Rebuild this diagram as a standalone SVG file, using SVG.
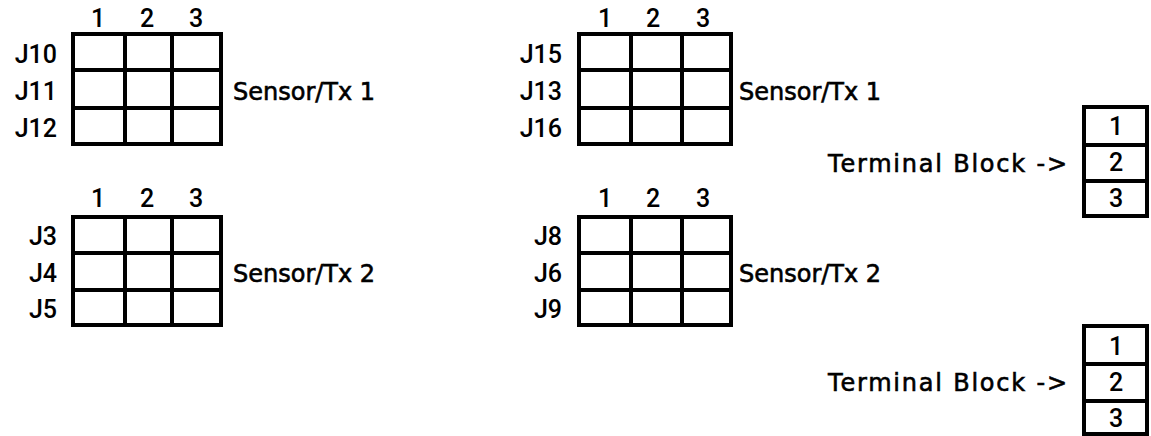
<svg xmlns="http://www.w3.org/2000/svg" width="1151" height="436" viewBox="0 0 1151 436">
<style>
text{font-family:"DejaVu Sans",Verdana,sans-serif;font-size:24px;fill:#000;stroke:#000;stroke-width:0.6}
.d{font-family:Roboto,"Liberation Sans",sans-serif;font-size:25px;font-weight:500;stroke:none}
.g{fill:none;stroke:#000;stroke-width:4}
.e{text-anchor:end}
.m{text-anchor:middle}
</style>
<rect width="1151" height="436" fill="#fff"/>
<g id="grid-top-left">
<text class="d m" x="98" y="27">1</text><text class="d m" x="147" y="27">2</text><text class="d m" x="196" y="27">3</text>
<text class="d e" x="57" y="63">J10</text><text class="d e" x="57" y="100">J11</text><text class="d e" x="57" y="137">J12</text>
<path class="g" d="M73 34H221V144H73Z M125 34V144 M172 34V144 M73 70H221 M73 108H221"/>
<text x="233" y="100">Sensor/Tx 1</text>
</g>
<g id="grid-top-right">
<text class="d m" x="605" y="27">1</text><text class="d m" x="653" y="27">2</text><text class="d m" x="703" y="27">3</text>
<text class="d e" x="562" y="63">J15</text><text class="d e" x="562" y="100">J13</text><text class="d e" x="562" y="137">J16</text>
<path class="g" d="M579 34H731V144H579Z M631 34V144 M682 34V144 M579 70H731 M579 108H731"/>
<text x="739" y="100">Sensor/Tx 1</text>
</g>
<g id="grid-bottom-left">
<text class="d m" x="98" y="207">1</text><text class="d m" x="147" y="207">2</text><text class="d m" x="196" y="207">3</text>
<text class="d e" x="57" y="245">J3</text><text class="d e" x="57" y="282">J4</text><text class="d e" x="57" y="318">J5</text>
<path class="g" d="M73 217H221V325H73Z M125 217V325 M172 217V325 M73 253H221 M73 290H221"/>
<text x="233" y="282">Sensor/Tx 2</text>
</g>
<g id="grid-bottom-right">
<text class="d m" x="605" y="207">1</text><text class="d m" x="653" y="207">2</text><text class="d m" x="703" y="207">3</text>
<text class="d e" x="562" y="245">J8</text><text class="d e" x="562" y="282">J6</text><text class="d e" x="562" y="318">J9</text>
<path class="g" d="M579 217H731V325H579Z M631 217V325 M682 217V325 M579 253H731 M579 290H731"/>
<text x="739" y="282">Sensor/Tx 2</text>
</g>
<g id="terminal-block-1">
<text x="828" y="172" textLength="239" lengthAdjust="spacing">Terminal Block -&gt;</text>
<path class="g" d="M1084 107H1147V216H1084Z M1084 145H1147 M1084 181H1147"/>
<text class="d m" x="1116" y="135">1</text><text class="d m" x="1116" y="171">2</text><text class="d m" x="1116" y="207">3</text>
</g>
<g id="terminal-block-2">
<text x="828" y="391" textLength="239" lengthAdjust="spacing">Terminal Block -&gt;</text>
<path class="g" d="M1084 326H1147V434H1084Z M1084 364H1147 M1084 401H1147"/>
<text class="d m" x="1116" y="355">1</text><text class="d m" x="1116" y="391">2</text><text class="d m" x="1116" y="427">3</text>
</g>
<g id="connectors"></g>
</svg>
